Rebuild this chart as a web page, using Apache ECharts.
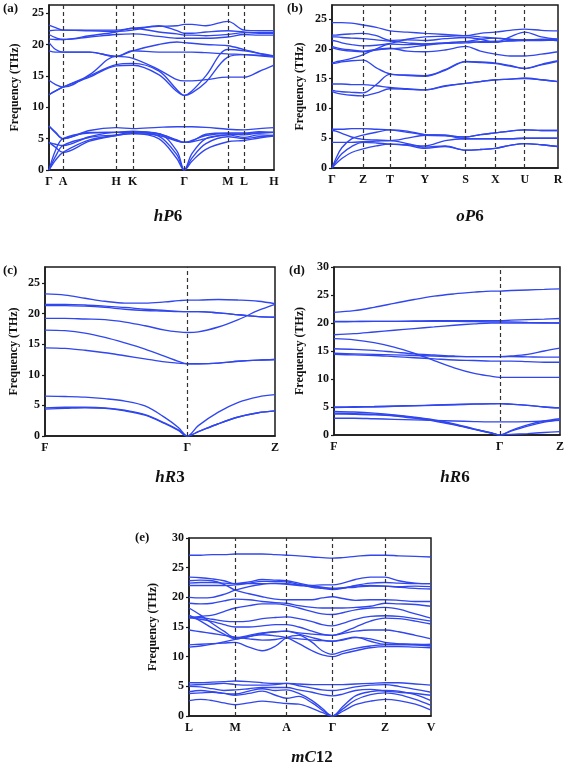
<!DOCTYPE html>
<html><head><meta charset="utf-8">
<script src="https://cdn.jsdelivr.net/npm/echarts@6/dist/echarts.min.js"></script>
<style>html,body{margin:0;padding:0;background:#fff}#c{width:567px;height:768px}</style>
</head><body><div id="c"></div>
<script>
// ---------- Panel (a) hP6 ----------
const kA = [0, 42, 202, 252, 407, 538, 587, 677];
const kLabA = ['Γ','A','H','K','Γ','M','L','H'];
const xsA = [0, 20, 42, 122, 202, 252, 330, 385, 407, 430, 472, 538, 587, 632, 677];
const bandsA = [
  [0, 1.6, 2.8, 4.8, 5.5, 5.8, 5.0, 1.8, 0, 1.4, 3.3, 4.5, 4.7, 5.1, 5.4],
  [0, 2.2, 3.9, 5.2, 5.6, 6.0, 5.4, 2.4, 0, 1.9, 4.2, 5.3, 5.0, 5.3, 5.5],
  [0, 3.2, 5.0, 5.9, 6.0, 6.1, 5.8, 3.0, 0, 2.6, 5.0, 5.6, 5.8, 5.9, 6.0],
  [4.4, 3.6, 2.8, 4.6, 5.5, 5.8, 5.5, 4.6, 4.4, 4.5, 5.0, 5.6, 5.2, 5.6, 5.5],
  [7.0, 6.0, 5.0, 6.0, 6.0, 6.2, 5.8, 4.7, 4.4, 4.7, 5.5, 5.8, 5.6, 5.9, 6.0],
  [7.0, 5.9, 5.0, 6.3, 6.75, 6.6, 6.8, 6.9, 6.9, 6.9, 6.8, 6.5, 6.4, 6.6, 6.75],
  [4.4, 4.1, 3.9, 5.3, 6.0, 6.0, 5.7, 4.8, 4.4, 4.6, 5.7, 5.9, 5.9, 6.1, 6.0],
  [23.1, 22.7, 22.3, 22.3, 22.3, 22.6, 22.9, 23.0, 23.2, 23.2, 23.0, 23.7, 22.3, 22.2, 22.2],
  [22.2, 22.3, 22.3, 22.2, 22.1, 22.3, 23.0, 22.2, 21.8, 21.8, 22.0, 22.2, 22.0, 21.9, 21.9],
  [21.6, 21.1, 20.8, 21.4, 22.0, 22.6, 22.0, 21.7, 21.5, 21.5, 21.4, 21.6, 21.9, 21.8, 21.8],
  [20.85, 20.8, 20.8, 21.2, 21.6, 21.7, 21.3, 21.0, 21.0, 21.0, 21.0, 21.2, 21.6, 21.5, 21.5],
  [20.3, 19.2, 18.8, 18.8, 18.1, 19.0, 20.0, 20.4, 20.3, 20.2, 20.0, 19.8, 19.2, 18.6, 18.1],
  [19.0, 18.8, 18.8, 18.8, 18.1, 19.0, 18.8, 18.8, 18.8, 18.8, 18.7, 18.5, 18.4, 18.2, 18.0],
  [14.3, 13.6, 13.2, 15.2, 18.1, 17.8, 16.0, 14.4, 14.2, 14.2, 14.4, 14.8, 14.8, 15.7, 16.7],
  [12.0, 12.6, 13.2, 15.0, 16.8, 17.0, 15.8, 12.8, 11.9, 12.3, 14.0, 18.0, 18.4, 18.3, 18.1],
  [12.0, 12.6, 13.2, 14.8, 16.6, 16.7, 15.2, 12.5, 11.9, 12.6, 15.0, 19.2, 19.0, 18.6, 18.2]
];
const yTicksA = [0, 5, 10, 15, 20, 25];

// ---------- Panel (b) oP6 ----------
const kB = [0, 95, 178, 285, 410, 501, 591, 693];
const kLabB = ['Γ','Z','T','Y','S','X','U','R'];
const xsB = [0, 12, 30, 60, 95, 136, 178, 231, 285, 347, 410, 455, 501, 546, 591, 642, 693];
const bandsB = [
  [0, 0.7, 1.6, 2.6, 3.2, 3.7, 4.0, 3.8, 3.3, 3.6, 3.0, 3.1, 3.3, 3.8, 4.1, 3.9, 3.6],
  [0, 1.1, 2.4, 3.6, 4.3, 4.2, 4.0, 3.9, 3.7, 4.6, 4.9, 4.9, 4.9, 4.9, 5.0, 5.0, 5.0],
  [0, 1.6, 3.4, 4.9, 5.5, 6.0, 6.4, 6.2, 5.6, 5.5, 5.2, 5.6, 5.9, 6.2, 6.4, 6.3, 6.3],
  [4.3, 4.3, 4.3, 4.3, 4.4, 4.5, 4.6, 4.1, 3.5, 3.7, 3.0, 3.1, 3.3, 3.8, 4.1, 3.9, 3.6],
  [6.3, 6.2, 5.8, 5.2, 4.8, 4.7, 4.6, 5.0, 5.5, 5.4, 5.2, 5.6, 5.9, 6.2, 6.4, 6.3, 6.3],
  [6.5, 6.5, 6.5, 6.6, 6.6, 6.5, 6.4, 6.0, 5.6, 5.5, 4.9, 4.9, 4.9, 4.9, 5.0, 5.0, 5.0],
  [24.4, 24.4, 24.4, 24.3, 24.0, 23.6, 23.0, 22.8, 22.6, 22.4, 22.2, 22.6, 22.8, 23.1, 23.3, 23.1, 23.0],
  [22.3, 22.3, 22.4, 22.5, 22.6, 22.2, 21.4, 21.5, 21.4, 21.7, 21.9, 21.6, 21.1, 22.0, 22.8, 22.0, 21.6],
  [22.0, 22.0, 21.9, 21.8, 21.7, 21.5, 21.3, 21.0, 20.8, 21.0, 21.2, 21.6, 21.8, 21.6, 21.5, 21.5, 21.4],
  [21.4, 21.3, 21.0, 20.7, 20.5, 20.6, 20.9, 21.6, 22.0, 22.1, 22.2, 22.0, 21.8, 21.6, 21.5, 21.6, 21.6],
  [20.4, 20.2, 20.0, 19.8, 19.6, 19.9, 20.1, 19.6, 19.5, 19.8, 20.4, 19.6, 19.1, 18.8, 18.8, 19.1, 19.5],
  [17.6, 17.8, 18.0, 18.4, 19.0, 20.0, 20.8, 20.7, 20.8, 21.0, 21.2, 21.1, 21.1, 21.4, 21.5, 21.5, 21.4],
  [17.5, 17.6, 17.8, 18.0, 18.1, 16.8, 15.8, 15.6, 15.5, 16.5, 17.9, 17.8, 17.6, 17.2, 16.7, 17.4, 18.0],
  [14.1, 14.1, 14.1, 14.0, 14.0, 13.8, 13.5, 13.3, 13.1, 13.8, 14.2, 14.5, 14.8, 14.9, 15.1, 14.8, 14.5],
  [13.0, 12.9, 12.8, 12.7, 12.6, 14.0, 15.7, 15.5, 15.4, 16.4, 17.8, 17.7, 17.5, 17.1, 16.7, 17.3, 17.9],
  [12.8, 12.6, 12.4, 12.2, 12.1, 12.6, 13.3, 13.2, 13.1, 13.7, 14.2, 14.5, 14.8, 14.9, 15.0, 14.8, 14.5],
  [20.2, 20.0, 19.8, 19.6, 19.5, 19.8, 20.0, 20.2, 20.6, 20.9, 21.0, 21.2, 21.3, 21.3, 21.4, 21.4, 21.5]
];
const yTicksB = [0, 5, 10, 15, 20, 25];

// ---------- Panel (c) hR3 ----------
const kC = [0, 427, 690];
const kLabC = ['F','Γ','Z'];
const xsC = [0, 60, 120, 180, 240, 300, 360, 400, 427, 460, 520, 580, 640, 690];
const bandsC = [
  [4.4, 4.5, 4.6, 4.5, 4.1, 3.4, 2.0, 0.9, 0, 0.7, 2.0, 3.1, 3.8, 4.1],
  [4.6, 4.7, 4.7, 4.6, 4.2, 3.5, 2.1, 1.0, 0, 0.7, 2.0, 3.1, 3.8, 4.1],
  [6.5, 6.45, 6.35, 6.1, 5.7, 4.9, 3.0, 1.4, 0, 1.7, 3.9, 5.5, 6.4, 6.75],
  [14.4, 14.3, 14.0, 13.6, 13.1, 12.6, 12.1, 11.9, 11.8, 11.8, 11.9, 12.2, 12.4, 12.5],
  [17.3, 17.2, 16.8, 16.1, 15.2, 14.2, 13.0, 12.2, 11.8, 11.8, 11.9, 12.2, 12.4, 12.5],
  [19.2, 19.2, 19.1, 19.0, 18.6, 18.0, 17.3, 17.0, 16.9, 17.0, 17.8, 19.0, 20.5, 21.5],
  [21.3, 21.3, 21.2, 21.0, 20.7, 20.5, 20.4, 20.3, 20.3, 20.3, 20.1, 19.8, 19.5, 19.4],
  [21.5, 21.5, 21.4, 21.2, 21.0, 20.7, 20.5, 20.35, 20.3, 20.3, 20.1, 19.8, 19.5, 19.4],
  [23.2, 23.0, 22.5, 22.0, 21.7, 21.7, 21.9, 22.1, 22.2, 22.2, 22.3, 22.2, 22.0, 21.6]
];
const yTicksC = [0, 5, 10, 15, 20, 25];

// ---------- Panel (d) hR6 ----------
const kD = [0, 497, 677];
const kLabD = ['F','Γ','Z'];
const xsD = [0, 60, 120, 180, 240, 300, 360, 420, 470, 497, 530, 580, 630, 677];
const bandsD = [
  [3.0, 3.0, 2.9, 2.8, 2.7, 2.6, 2.5, 2.4, 2.35, 2.35, 2.35, 2.4, 2.5, 2.6],
  [3.75, 3.7, 3.6, 3.4, 3.0, 2.5, 1.8, 1.0, 0.35, 0, 0.8, 1.8, 2.5, 2.9],
  [4.2, 4.1, 3.9, 3.6, 3.2, 2.7, 2.0, 1.1, 0.4, 0, 0.1, 0.25, 0.45, 0.6],
  [3.9, 3.8, 3.7, 3.5, 3.1, 2.6, 1.9, 1.05, 0.38, 0, 0.7, 1.6, 2.3, 2.7],
  [5.0, 5.05, 5.1, 5.2, 5.25, 5.35, 5.45, 5.55, 5.6, 5.6, 5.5, 5.3, 5.0, 4.85],
  [4.9, 4.95, 5.0, 5.1, 5.2, 5.3, 5.4, 5.5, 5.55, 5.6, 5.5, 5.3, 5.0, 4.85],
  [17.2, 17.0, 16.5, 15.7, 14.6, 13.3, 12.0, 11.0, 10.5, 10.3, 10.3, 10.3, 10.3, 10.3],
  [15.4, 15.3, 15.1, 14.8, 14.5, 14.3, 14.1, 14.0, 14.0, 14.0, 14.1, 14.4, 15.0, 15.5],
  [14.6, 14.5, 14.4, 14.3, 14.2, 14.1, 14.0, 14.0, 14.0, 14.0, 14.0, 13.95, 13.9, 13.9],
  [14.4, 14.3, 14.2, 14.0, 13.8, 13.6, 13.4, 13.3, 13.2, 13.2, 13.2, 13.1, 13.0, 13.0],
  [17.9, 18.1, 18.4, 18.7, 19.0, 19.3, 19.6, 19.85, 20.0, 20.0, 20.0, 20.0, 20.0, 20.0],
  [20.2, 20.25, 20.3, 20.3, 20.35, 20.4, 20.4, 20.4, 20.4, 20.4, 20.5, 20.6, 20.7, 20.8],
  [20.3, 20.3, 20.3, 20.3, 20.3, 20.3, 20.3, 20.25, 20.2, 20.2, 20.2, 20.1, 20.05, 20.0],
  [21.9, 22.2, 22.8, 23.5, 24.2, 24.8, 25.2, 25.5, 25.7, 25.7, 25.8, 25.9, 26.0, 26.1]
];
const yTicksD = [0, 5, 10, 15, 20, 25, 30];

// ---------- Panel (e) mC12 ----------
const kE = [0, 139, 293, 431, 589, 727];
const kLabE = ['L','M','A','Γ','Z','V'];
const xsE = [0, 35, 70, 105, 139, 180, 220, 260, 293, 330, 370, 400, 431, 462, 500, 545, 589, 630, 680, 727];
const bandsE = [
  [27.1, 27.1, 27.2, 27.2, 27.3, 27.3, 27.3, 27.2, 27.1, 27.0, 26.8, 26.7, 26.6, 26.7, 26.9, 27.1, 27.1, 27.0, 26.9, 26.8],
  [23.4, 23.3, 23.1, 22.8, 22.3, 22.6, 23.0, 22.9, 22.8, 22.4, 22.0, 22.1, 22.1, 22.4, 23.0, 23.4, 23.4, 22.8, 22.4, 22.3],
  [22.8, 22.9, 22.8, 22.2, 21.2, 20.6, 20.1, 19.7, 19.6, 19.6, 19.6, 19.9, 20.1, 19.8, 19.5, 19.6, 19.6, 19.5, 19.3, 19.3],
  [22.4, 22.5, 22.5, 22.4, 22.3, 22.3, 22.3, 22.3, 22.2, 22.0, 21.8, 21.6, 21.5, 21.6, 21.9, 22.0, 21.9, 21.7, 21.5, 21.4],
  [22.0, 22.0, 22.0, 22.0, 22.1, 22.4, 22.7, 22.7, 22.6, 22.2, 21.7, 21.5, 21.3, 21.5, 22.0, 22.4, 22.5, 22.4, 22.3, 22.3],
  [20.0, 19.9, 20.0, 20.5, 21.2, 21.8, 22.2, 22.4, 22.3, 22.1, 21.9, 21.7, 21.5, 21.6, 21.7, 21.9, 21.9, 21.8, 21.9, 21.8],
  [19.0, 18.9, 19.0, 19.4, 19.7, 19.6, 19.3, 19.1, 19.0, 18.6, 18.3, 18.2, 18.2, 18.2, 18.3, 18.5, 19.0, 18.9, 18.8, 18.5],
  [18.2, 17.0, 15.6, 14.3, 13.2, 13.6, 14.0, 14.2, 14.3, 13.8, 13.2, 12.8, 12.6, 12.9, 13.3, 12.6, 12.1, 12.1, 12.1, 12.0],
  [14.5, 14.2, 13.9, 13.6, 13.3, 13.0, 12.8, 12.9, 13.2, 13.0, 12.8, 12.7, 12.6, 12.8, 13.2, 13.0, 12.4, 12.2, 12.0, 11.8],
  [17.0, 16.0, 14.8, 13.8, 13.0, 13.4, 13.7, 13.5, 13.2, 12.2, 11.0, 10.3, 10.0, 10.5, 11.0, 11.5, 11.7, 11.7, 11.6, 11.5],
  [12.0, 12.1, 12.2, 12.3, 12.4, 11.6, 11.0, 11.8, 13.2, 13.6, 12.4, 11.0, 10.4, 10.9, 11.4, 11.8, 12.0, 12.0, 12.0, 12.1],
  [11.6, 11.8, 12.1, 12.5, 12.9, 13.4, 13.9, 14.2, 14.3, 14.0, 13.8, 13.7, 13.6, 13.9, 14.3, 14.5, 14.5, 14.2, 13.6, 13.0],
  [16.6, 16.3, 15.9, 15.4, 15.0, 15.0, 15.2, 15.4, 15.4, 15.0, 14.3, 13.8, 13.6, 14.1, 15.0, 16.0, 16.5, 16.4, 16.0, 15.5],
  [16.7, 16.6, 16.3, 16.0, 15.9, 16.0, 16.4, 16.6, 16.7, 16.4, 15.9, 15.4, 15.2, 15.6, 16.3, 16.8, 16.9, 16.8, 16.4, 16.0],
  [16.5, 16.8, 17.0, 17.6, 18.2, 18.6, 18.9, 18.9, 18.7, 18.2, 17.6, 17.2, 17.1, 17.4, 17.9, 18.2, 18.3, 18.0, 17.2, 16.5],
  [2.6, 2.8, 2.6, 2.2, 1.9, 2.2, 2.5, 2.3, 2.1, 2.0, 1.3, 0.6, 0, 0.8, 1.9, 2.5, 2.8, 2.6, 2.0, 1.0],
  [3.8, 3.9, 4.0, 3.8, 3.5, 3.8, 4.2, 3.5, 3.0, 3.3, 2.2, 1.0, 0, 1.2, 2.7, 3.6, 3.9, 3.6, 2.8, 1.8],
  [4.1, 4.3, 4.1, 3.8, 3.7, 4.2, 4.6, 4.3, 4.4, 3.8, 2.6, 1.3, 0, 1.6, 3.4, 4.1, 4.3, 4.2, 3.6, 2.6],
  [5.0, 4.9, 4.6, 4.3, 4.4, 4.6, 4.8, 4.8, 4.8, 4.4, 4.0, 3.6, 3.4, 3.7, 4.3, 4.5, 4.2, 4.0, 3.8, 3.5],
  [5.2, 5.3, 5.4, 5.5, 5.3, 5.2, 5.2, 5.3, 5.5, 5.1, 4.7, 4.4, 4.3, 4.5, 4.9, 5.2, 5.3, 5.0, 4.5, 4.0],
  [5.6, 5.6, 5.7, 5.8, 5.9, 5.8, 5.6, 5.5, 5.5, 5.4, 5.3, 5.3, 5.3, 5.3, 5.4, 5.5, 5.6, 5.6, 5.4, 5.2]
];
const yTicksE = [0, 5, 10, 15, 20, 25, 30];

// ---------- layout / style ----------
const FONT = '"Liberation Serif","Times New Roman",serif';
const BLUE = '#3046ee';
const INK = '#1a1a1a';
const panels = [
  {k:kA, lab:kLabA, xs:xsA, bands:bandsA, yt:yTicksA, ymax:26.3, g:{left:49, top:5, width:225, height:165}, gap:28},
  {k:kB, lab:kLabB, xs:xsB, bands:bandsB, yt:yTicksB, ymax:27.35, g:{left:332, top:5, width:226, height:163}, gap:26},
  {k:kC, lab:kLabC, xs:xsC, bands:bandsC, yt:yTicksC, ymax:27.6, g:{left:45, top:267, width:230, height:169}, gap:25},
  {k:kD, lab:kLabD, xs:xsD, bands:bandsD, yt:yTicksD, ymax:30, g:{left:334, top:267, width:226, height:168}, gap:28},
  {k:kE, lab:kLabE, xs:xsE, bands:bandsE, yt:yTicksE, ymax:30, g:{left:189, top:538, width:242, height:178}, gap:30}
];

const txt = {fontFamily: FONT, fontWeight: 'bold', fontSize: 12, color: '#111'};
const option = {
  animation: false,
  grid: panels.map(p => Object.assign({show: true, borderColor: INK, borderWidth: 1.5, backgroundColor: 'transparent'}, p.g)),
  xAxis: panels.map((p, i) => ({
    gridIndex: i, type: 'value', min: 0, max: p.k[p.k.length - 1],
    splitLine: {show: false}, axisTick: {show: false},
    axisLine: {lineStyle: {color: INK, width: 1.5}},
    axisLabel: Object.assign({customValues: p.k, margin: 6, hideOverlap: false,
      formatter: v => { let b = 0; p.k.forEach((kv, j) => { if (Math.abs(kv - v) < Math.abs(p.k[b] - v)) b = j; }); return p.lab[b]; }}, txt)
  })),
  yAxis: panels.map((p, i) => ({
    gridIndex: i, type: 'value', min: 0, max: p.ymax,
    splitLine: {show: false},
    axisLine: {show: true, lineStyle: {color: INK, width: 1.5}},
    axisTick: {show: true, inside: false, length: 3, customValues: p.yt, lineStyle: {color: INK, width: 1.2}},
    axisLabel: Object.assign({customValues: p.yt, margin: 5}, txt),
    name: 'Frequency (THz)', nameLocation: 'middle', nameGap: p.gap,
    nameTextStyle: {fontFamily: FONT, fontWeight: 'bold', fontSize: 12, color: '#111'}
  })),
  series: []
};
panels.forEach((p, i) => {
  p.bands.forEach((b, j) => {
    const s = {
      type: 'line', xAxisIndex: i, yAxisIndex: i, silent: true,
      data: p.xs.map((x, n) => [x, b[n]]),
      smooth: 0.35, showSymbol: false, symbol: 'none',
      lineStyle: {color: BLUE, width: 1.35}, z: 3
    };
    if (j === 0) {
      s.markLine = {
        silent: true, symbol: ['none', 'none'], label: {show: false}, animation: false,
        lineStyle: {type: [4, 3], color: '#333', width: 1.2},
        data: p.k.slice(1, -1).map(x => ({xAxis: x}))
      };
    }
    option.series.push(s);
  });
});

const rich = {
  i: {fontFamily: FONT, fontStyle: 'italic', fontWeight: 'bold', fontSize: 17, fill: '#111'},
  n: {fontFamily: FONT, fontWeight: 'bold', fontSize: 17, fill: '#111'}
};
const lbl = (t, x, y) => ({type: 'text', x: x, y: y, style: {text: t, font: 'bold 13px ' + FONT, fill: '#111', align: 'left', verticalAlign: 'middle'}});
const ttl = (t, x, y) => ({type: 'text', x: x, y: y, style: {text: t, rich: rich, align: 'center', verticalAlign: 'middle'}});
option.graphic = [
  lbl('(a)', 3, 9), lbl('(b)', 287, 9), lbl('(c)', 3, 271), lbl('(d)', 289, 271), lbl('(e)', 135, 538),
  ttl('{i|hP}{n|6}', 168, 217), ttl('{i|oP}{n|6}', 470, 217),
  ttl('{i|hR}{n|3}', 170, 478), ttl('{i|hR}{n|6}', 455, 478),
  ttl('{i|mC}{n|12}', 312, 758)
];

const chart = echarts.init(document.getElementById('c'), null, {renderer: 'canvas'});
chart.setOption(option);
</script>
</body></html>
